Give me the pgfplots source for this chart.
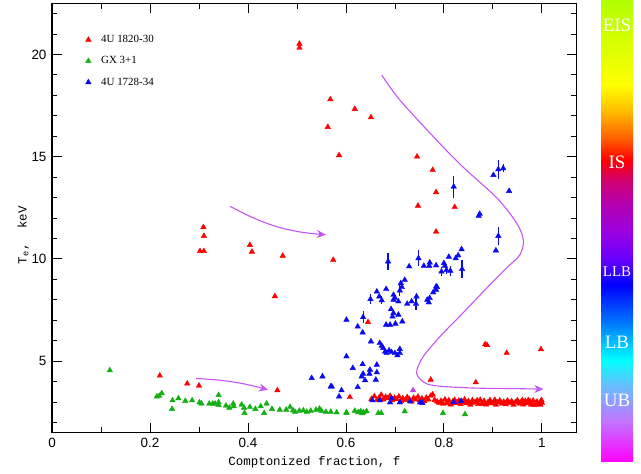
\documentclass[border=0pt]{standalone}
\usepackage{pgfplots}
\pgfplotsset{compat=1.18}
\usetikzlibrary{arrows.meta}
\usepackage{fontspec}
\setmainfont{Liberation Serif}
\newfontfamily\ticksf{Liberation Sans}
\newfontfamily\monof{Liberation Mono}
\definecolor{arrowc}{RGB}{195,85,245}
\definecolor{myred}{RGB}{255,0,0}
\definecolor{mygreen}{RGB}{20,175,20}
\definecolor{myblue}{RGB}{10,10,240}
\definecolor{myviolet}{RGB}{190,60,240}
\pgfdeclareverticalshading{cbar}{100bp}{rgb(0bp)=(1,0,1); rgb(25bp)=(1,0,1); rgb(29.55bp)=(0.75,0.47,1); rgb(33.33bp)=(0.4,0.75,1); rgb(36.04bp)=(0,1,1); rgb(40.37bp)=(0,0.43,1); rgb(44.16bp)=(0,0,1); rgb(46.86bp)=(0.4,0,1); rgb(49.57bp)=(0.59,0,0.9); rgb(52.81bp)=(0.7,0,0.7); rgb(55.52bp)=(0.82,0,0.43); rgb(57.68bp)=(1,0,0); rgb(59.85bp)=(1,0.35,0); rgb(63.10bp)=(1,0.75,0); rgb(65.80bp)=(1,1,0); rgb(71.75bp)=(0.8,1,0); rgb(75bp)=(0.69,1,0); rgb(100bp)=(0.69,1,0)}

\pgfplotstableread{
f T
0.505 20.52
0.505 20.32
0.568 17.80
0.618 17.33
0.651 16.92
0.563 16.45
0.586 15.07
0.745 15.00
0.777 14.35
0.784 13.26
0.747 12.60
0.822 12.53
0.784 11.33
0.309 11.55
0.310 11.12
0.310 10.38
0.302 10.38
0.404 10.68
0.408 10.35
0.471 10.15
0.574 9.95
0.455 8.17
0.645 6.91
0.884 5.82
0.888 5.78
0.928 5.40
0.998 5.58
0.773 4.09
0.865 3.96
0.220 4.29
0.276 3.90
0.300 3.80
0.460 3.57
0.608 3.24
0.652 3.15
0.658 3.28
0.663 3.10
0.668 3.22
0.672 3.35
0.676 3.12
0.681 3.25
0.685 3.18
0.690 3.30
0.694 3.08
0.699 3.20
0.703 3.14
0.708 3.27
0.712 3.05
0.716 3.18
0.721 3.10
0.725 3.24
0.729 3.15
0.734 3.02
0.738 3.20
0.742 3.12
0.747 3.26
0.751 3.08
0.755 3.17
0.760 3.04
0.764 3.21
0.768 3.12
0.773 3.30
0.777 3.37
0.781 3.10
0.786 3.02
0.790 2.96
0.794 3.05
0.798 2.92
0.802 3.12
0.806 2.98
0.810 3.08
0.814 2.88
0.818 3.02
0.822 3.10
0.826 2.95
0.830 3.06
0.834 2.90
0.838 3.00
0.842 3.12
0.846 2.94
0.850 3.04
0.854 2.86
0.858 3.08
0.862 2.97
0.866 3.02
0.870 2.90
0.874 3.10
0.878 2.96
0.882 3.05
0.886 2.88
0.890 3.00
0.894 3.09
0.898 2.93
0.902 3.03
0.906 2.87
0.910 2.98
0.914 3.07
0.918 2.92
0.922 3.01
0.926 2.89
0.930 3.06
0.934 2.95
0.938 3.03
0.942 2.86
0.946 2.99
0.950 3.08
0.954 2.91
0.958 3.02
0.962 2.88
0.966 3.05
0.970 2.94
0.974 3.00
0.978 2.87
0.982 3.07
0.986 2.93
0.990 3.01
0.994 2.89
0.998 3.04
1.000 2.96
0.796 2.99
0.808 2.93
0.820 2.95
0.832 3.01
0.844 2.99
0.856 2.96
0.868 3.08
0.880 2.90
0.892 2.96
0.904 3.10
0.916 2.99
0.928 3.00
0.940 2.97
0.952 2.98
0.964 2.96
0.976 3.02
0.988 2.97
0.999 3.09
0.997 2.86
0.985 2.85
0.972 3.09
0.960 3.09
}\redtab

\pgfplotstableread{
f T
0.118 4.55
0.214 3.27
0.219 3.30
0.224 3.43
0.245 2.66
0.246 3.08
0.258 3.18
0.272 3.05
0.286 3.08
0.301 2.98
0.305 2.92
0.321 2.92
0.328 2.92
0.333 2.92
0.340 3.34
0.340 2.98
0.340 2.85
0.355 2.82
0.362 2.72
0.370 2.92
0.371 2.79
0.387 2.87
0.392 2.72
0.393 2.46
0.404 2.76
0.415 2.66
0.426 2.79
0.433 2.46
0.438 2.92
0.449 2.66
0.465 2.62
0.478 2.62
0.486 2.76
0.492 2.59
0.496 2.52
0.505 2.57
0.513 2.59
0.520 2.52
0.528 2.57
0.539 2.62
0.546 2.67
0.550 2.57
0.559 2.52
0.569 2.52
0.581 2.49
0.601 2.49
0.618 2.57
0.601 2.46
0.625 2.50
0.630 2.55
0.636 2.50
0.642 2.55
0.633 2.45
0.666 2.46
0.672 2.46
0.720 2.54
0.798 2.46
0.843 2.40
}\greentab

\pgfplotstableread{
f T e
0.911 11.12 0.43
0.906 10.41 0
0.836 10.47 0
0.829 10.17 0
0.824 10.03 0
0.810 10.10 0
0.800 9.79 0
0.802 9.66 0
0.795 9.38 0.2
0.805 9.45 0.2
0.813 9.42 0.25
0.837 9.50 0.45
0.784 9.68 0
0.771 9.82 0
0.770 9.66 0
0.759 9.66 0
0.748 10.03 0.40
0.729 9.63 0
0.686 9.87 0.40
0.720 8.97 0
0.712 8.81 0
0.714 8.62 0
0.710 8.45 0.25
0.682 8.52 0
0.663 8.40 0
0.668 8.16 0
0.673 7.97 0.2
0.650 8.03 0.25
0.697 8.24 0
0.700 8.08 0
0.707 7.92 0
0.697 8.00 0
0.744 8.16 0
0.743 7.80 0.30
0.725 7.80 0
0.734 7.92 0
0.766 8.00 0
0.769 7.87 0
0.771 8.08 0
0.784 8.49 0
0.786 8.62 0
0.778 8.36 0
0.692 7.54 0
0.697 7.35 0
0.695 7.18 0
0.707 7.27 0
0.635 7.15 0.30
0.601 7.02 0
0.682 6.78 0
0.690 6.78 0
0.701 6.83 0
0.715 6.94 0
0.624 6.69 0
0.634 6.40 0
0.651 5.96 0
0.669 5.88 0
0.673 5.75 0
0.676 5.64 0
0.680 5.47 0
0.683 5.39 0
0.688 5.52 0
0.693 5.44 0
0.700 5.39 0
0.705 5.28 0
0.710 5.59 0
0.710 5.39 0
0.601 5.23 0
0.614 4.66 0
0.634 4.85 0
0.649 4.58 0
0.648 4.38 0
0.663 4.82 0
0.663 4.45 0
0.635 4.38 0
0.632 4.25 0
0.639 4.06 0
0.661 4.09 0
0.624 3.73 0
0.571 3.76 0
0.591 3.57 0
0.586 3.27 0
0.530 4.17 0
0.552 4.25 0
0.569 3.76 0
0.654 3.08 0
0.669 3.08 0
0.690 2.98 0
0.710 2.98 0
0.731 3.03 0
0.751 2.98 0
0.693 3.19 0
0.756 2.95 0
0.820 3.00 0
0.835 3.05 0
0.901 14.10 0
0.911 14.38 0.47
0.921 14.43 0.2
0.933 13.32 0
0.873 12.20 0
0.871 12.10 0
0.820 13.53 0.53
0.784 8.65 0
}\bluetab

\pgfplotstableread{
f T
0.737 3.57
}\violettab

\begin{document}
\begin{tikzpicture}[x=1bp,y=1bp]
\path[use as bounding box] (-52,-41.3) rectangle (589,432.7);
\begin{axis}[
  at={(0,0)}, anchor=south west,
  scale only axis, width=524.7bp, height=429.4bp,
  xmin=0, xmax=1.071, ymin=1.5, ymax=22.5,
  xtick={0,0.2,0.4,0.6,0.8,1},
  minor xtick={0.1,0.3,0.5,0.7,0.9},
  ytick={5,10,15,20},
  minor ytick={2,3,4,6,7,8,9,11,12,13,14,16,17,18,19,21,22},
  tick align=inside,
  major tick length=10bp, minor tick length=5.5bp,
  every tick/.style={black, line width=0.9bp},
  axis line style={line width=1.1bp},
  tick label style={font=\ticksf\fontsize{13.5}{14}\selectfont, /pgf/number format/assume math mode=true},
  xticklabel style={yshift=-2bp},
  yticklabel style={xshift=-2bp},
  xlabel={Comptonized fraction, f},
  ylabel={T\textsubscript{e},\ \ keV},
  label style={font=\monof\fontsize{12.5}{13}\selectfont},
  xlabel style={at={(axis description cs:0.5,-0.068)}, anchor=center},
  ylabel style={at={(axis description cs:-0.055,0.46)}, anchor=center},
  legend style={draw=none, fill=none, at={(axis description cs:0.058,0.935)}, anchor=north west, font=\fontsize{11}{13}\selectfont, row sep=8.5bp, column sep=8bp},
  legend cell align=left,
]
\addplot[only marks, mark=triangle*, mark size=3.2pt, color=myred] table[x=f,y=T] {\redtab};
\addlegendentry{4U 1820-30}
\addplot[only marks, mark=triangle*, mark size=3.2pt, color=mygreen] table[x=f,y=T] {\greentab};
\addlegendentry{GX 3+1}
\addplot[only marks, mark=triangle*, mark size=3.2pt, color=myblue,
  error bars/.cd, y dir=both, y explicit, error mark=none,
  error bar style={line width=1.2bp, myblue}] table[x=f,y=T,y error=e] {\bluetab};
\addlegendentry{4U 1728-34}
\addplot[only marks, mark=triangle*, mark size=3.2pt, color=myviolet, forget plot] table[x=f,y=T] {\violettab};

\draw[arrowc, line width=1.1bp, -{Stealth[length=9bp,width=8bp]}]
  plot[smooth, tension=0.55] coordinates {(0.673,18.99) (0.710,17.77) (0.785,15.81) (0.839,14.49) (0.908,12.98) (0.948,11.76) (0.962,10.93) (0.955,10.20) (0.928,9.56) (0.884,8.49) (0.839,7.36) (0.792,6.20) (0.758,5.23) (0.745,4.58) (0.747,4.25) (0.765,3.89) (0.799,3.76) (0.867,3.68) (0.935,3.66) (1.003,3.63)};
\draw[arrowc, line width=1.1bp, -{Stealth[length=9bp,width=8bp]}] (0.363,12.58) to[bend right=12] (0.559,11.18);
\draw[arrowc, line width=1.1bp, -{Stealth[length=9bp,width=8bp]}] (0.294,4.15) to[bend left=6] (0.441,3.60);
\end{axis}
\shade[shading=cbar] (549,-29.3) rectangle (581,432.7);
\node[white, font=\fontsize{19}{19}\selectfont] at (565,407.7) {EIS};
\node[white, font=\fontsize{19}{19}\selectfont] at (565,270.7) {IS};
\node[white, font=\fontsize{15}{15}\selectfont] at (565,160.7) {LLB};
\node[white, font=\fontsize{19}{19}\selectfont] at (565,90.7) {LB};
\node[white, font=\fontsize{19}{19}\selectfont] at (565,32.7) {UB};
\end{tikzpicture}
\end{document}
